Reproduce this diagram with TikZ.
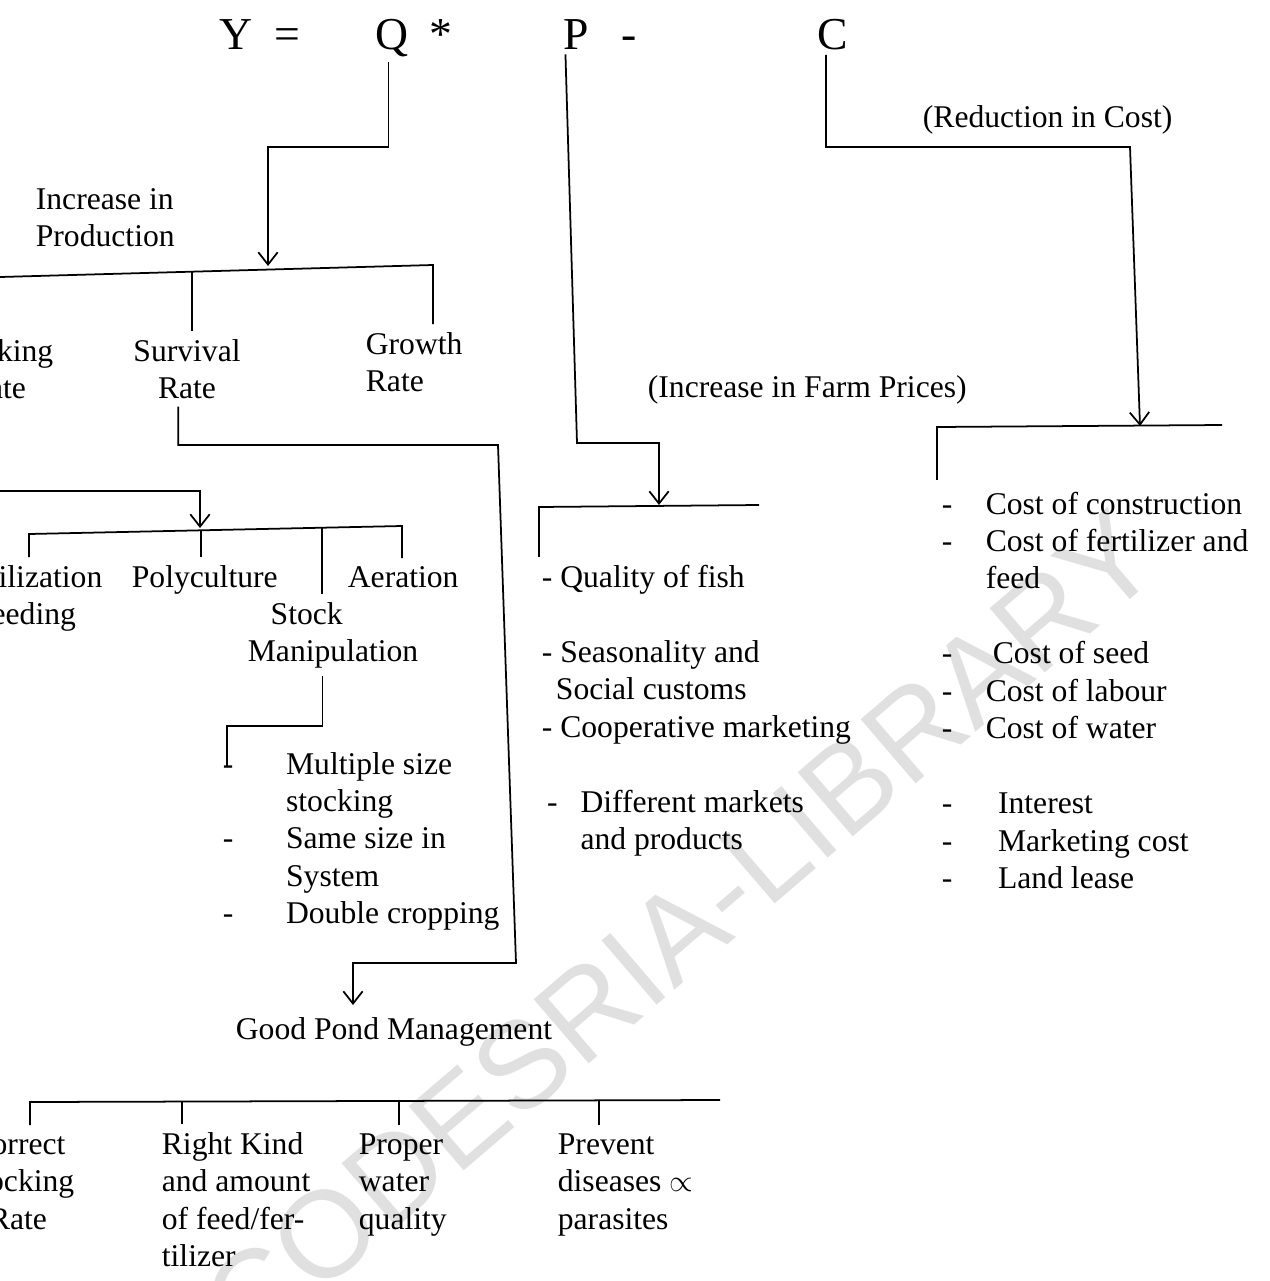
\documentclass[tikz,border=0pt]{standalone}
\usepackage{fontspec}
\setmainfont{Liberation Serif}
\newfontfamily\markfont{Liberation Sans}
\usetikzlibrary{arrows.meta}

\tikzset{
  txt/.style={font=\fontsize{18}{21.34}\selectfont, inner xsep=0pt, inner ysep=4pt},
  eqn/.style={font=\fontsize{26}{30}\selectfont, anchor=base, inner sep=2pt},
  lst/.style={txt, align=left, anchor=base west},
  ctr/.style={txt, align=center, anchor=base},
}

\begin{document}
\begin{tikzpicture}[x=0.02cm, y=-0.02cm, line width=1pt, >={Straight Barb[length=7pt,width=11pt]}]
\useasboundingbox (0,0) rectangle (1269,1281);
\clip (0,0) rectangle (1269,1281);
% watermark
\node[rotate=40.6, text=black!12, font=\markfont\fontsize{70}{70}\selectfont] (mark) at (680,930) {CODESRIA-LIBRARY};

% Y = Q * P - C
\node[eqn] (Y) at (236,50) {Y};
\node[eqn] (eq) at (287,50) {=};
\node[eqn] (Q) at (392,50) {Q};
\node[eqn] (star) at (441,50) {*};
\node[eqn] (P) at (576,50) {P};
\node[eqn] (minus) at (629,50) {-};
\node[eqn] (C) at (833,50) {C};

% production side (multi-line nodes sit on their last line)
\node[lst] (incr) at (35,246.5) {Increase in\\Production};
\node[ctr] (stock) at (-3,398.5) {Stocking\\Rate};
\node[ctr] (surv) at (187,398.5) {Survival\\Rate};
\node[lst] (grow) at (365,391.5) {Growth\\Rate};
\coordinate (qturn) at (268,147);
\coordinate (qhit) at (268,266);
\coordinate (qbarL) at (0,277);
\coordinate (qbarR) at (433,265);
\coordinate (survtop) at (192,272);
\draw[->] ([xshift=-2pt]Q.south) |- (qturn) -- (qhit);
\draw (qbarL) -- (qbarR) -- (qbarR |- grow.north);
\draw (survtop) -- (survtop |- surv.north);

\node[ctr] (fert) at (25,624.5) {Fertilization\\Feeding};
\node[lst] (poly) at (131,587) {Polyculture};
\node[lst] (aer) at (347,587) {Aeration};
\node[lst] (manip) at (247,661.5) {\hspace{13pt}Stock\\Manipulation};
\coordinate (fturn) at (200,491);
\coordinate (fhit) at (200,528);
\coordinate (mbarL) at (29,534);
\coordinate (mbarR) at (402,526);
\coordinate (polytop) at (201,530);
\coordinate (mantop) at (322,528);
\draw[->] (stock.south) |- (fturn) -- (fhit);
\draw (mbarL |- fert.north) -- (mbarL) -- (mbarR) -- (mbarR |- aer.north);
\draw (polytop) -- (polytop |- poly.north);
\draw (mantop) -- (mantop |- manip.north);

\node[txt, anchor=base west] (sizes) at (222,774) {\begin{tabular}[t]{@{}l@{\hspace{30pt}}l@{}}
- & Multiple size\\
  & stocking\\
- & Same size in\\
  & System\\
- & Double cropping
\end{tabular}};
\coordinate (mturn) at (227,726);
\coordinate (mend) at (227,766);
\draw ([xshift=-6pt]manip.south) |- (mturn) -- (mend);

% pond management
\node[txt, anchor=base] (gpm) at (394,1039) {Good Pond Management};
\coordinate (svturn) at (498,445);
\coordinate (svdown) at (516,963);
\coordinate (gpmin) at (353,1005);
\draw[->] ([xshift=-5pt]surv.south) |- (svturn) -- (svdown) -| (gpmin);

\node[ctr] (corr) at (18,1229) {Correct\\Stocking\\Rate};
\node[lst] (feed) at (161,1266.5) {Right Kind\\and amount\\of feed/fer-\\tilizer};
\node[lst] (water) at (358,1229) {Proper\\water\\quality};
\node[lst] (dis) at (557,1229) {Prevent\\diseases $\propto$\\parasites};
\coordinate (gbarL) at (30,1102);
\coordinate (gbarR) at (720,1100);
\coordinate (g1) at (182,1102);
\coordinate (g2) at (399,1101);
\coordinate (g3) at (599,1100);
\draw (gbarL |- corr.north) -- (gbarL) -- (gbarR);
\draw (g1) -- (g1 |- feed.north);
\draw (g2) -- (g2 |- water.north);
\draw (g3) -- (g3 |- dis.north);

% price side
\node[lst] (pricelbl) at (647,397) {(Increase in Farm Prices)};
\node[lst] (price) at (541,849.5) {- Quality of fish\\[21.34pt]- Seasonality and\\\hspace{8pt}Social customs\\- Cooperative marketing\\[21.34pt]\hspace{3pt}-\hspace{13pt}Different markets\\\hspace{22pt}and products};
\coordinate (pturn) at (577,443);
\coordinate (phit) at (659,505);
\coordinate (pbarL) at (539,507);
\coordinate (pbarR) at (759,505);
\draw[->] ([xshift=-6pt]P.south) -- (pturn) -| (phit);
\draw (pbarL |- price.north) -- (pbarL) -- (pbarR);

% cost side
\node[lst] (costlbl) at (922,127) {(Reduction in Cost)};
\node[txt, anchor=base west] (cost) at (941,514) {\begin{tabular}[t]{@{}l@{\hspace{19pt}}l@{}}
- & Cost of construction\\
- & Cost of fertilizer and\\
  & feed\\
  & \\
- & \hspace{4pt}Cost of seed\\
- & Cost of labour\\
- & Cost of water\\
  & \\
- & \hspace{7pt}Interest\\
- & \hspace{7pt}Marketing cost\\
- & \hspace{7pt}Land lease
\end{tabular}};
\coordinate (cturn) at (1130,147);
\coordinate (chit) at (1140,426);
\coordinate (cbarL) at (937,427);
\coordinate (cbarR) at (1222,425);
\draw[->] ([xshift=-4pt]C.south) |- (cturn) -- (chit);
\draw (cbarL |- cost.north) -- (cbarL) -- (cbarR);
\end{tikzpicture}
\end{document}
